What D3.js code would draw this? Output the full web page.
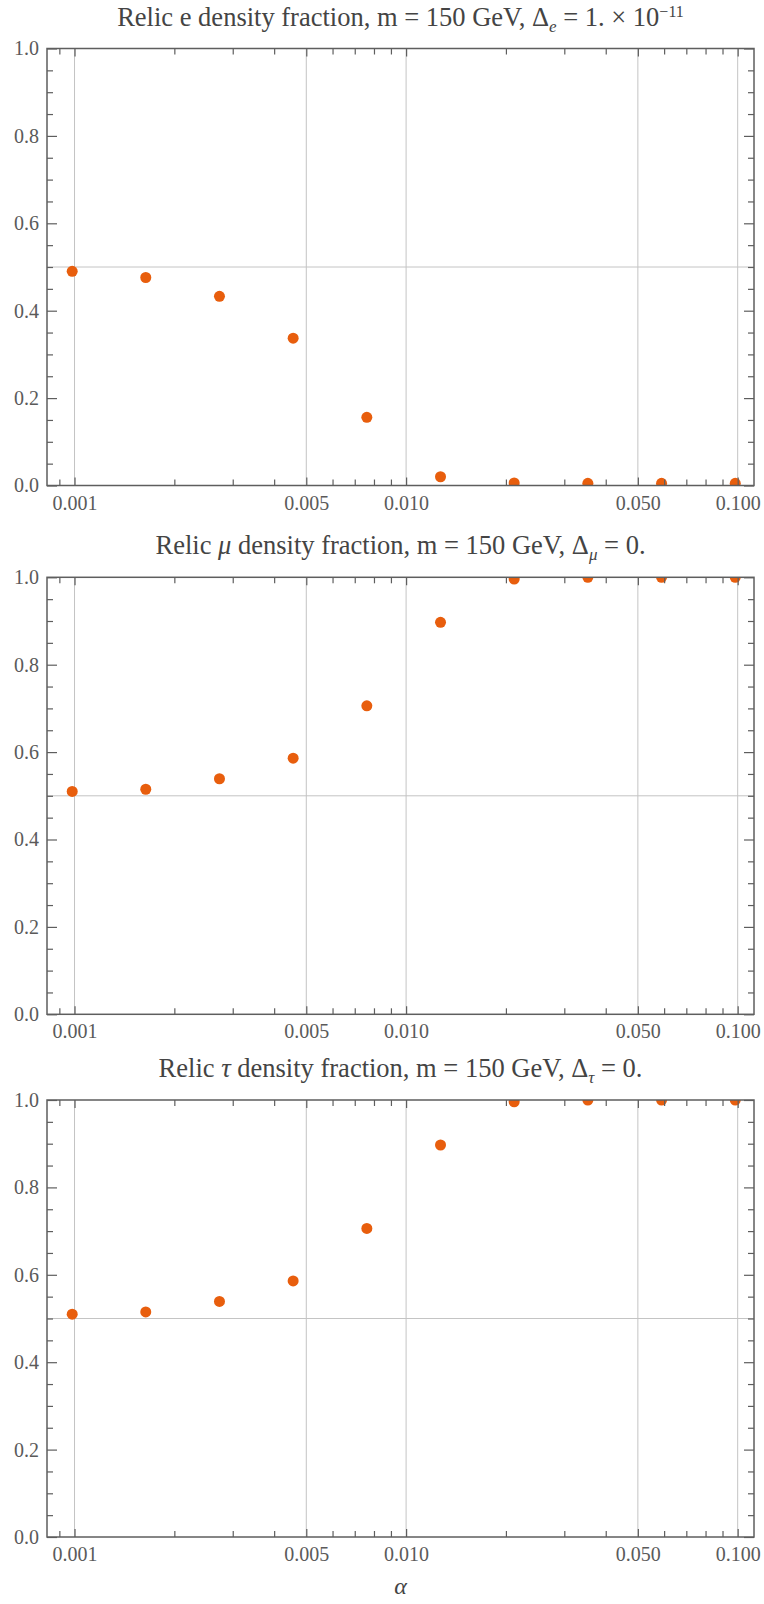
<!DOCTYPE html>
<html>
<head>
<meta charset="utf-8">
<script src="https://cdn.jsdelivr.net/npm/d3@7"></script>
<style>
  html, body { margin: 0; padding: 0; background: #fff; }
  svg { display: block; }
  text { font-family: "Liberation Serif", "Times New Roman", serif; }
</style>
</head>
<body>
<svg id="chart" width="764" height="1604"></svg>
<script>
// coupling values and relic density fractions per lepton flavour
const alphaValues = [0.000984, 0.00164, 0.002736, 0.004564, 0.007613, 0.0127, 0.02118, 0.03533, 0.05894, 0.09833];
const electronFraction = [0.490, 0.476, 0.433, 0.337, 0.156, 0.020, 0.006, 0.005, 0.005, 0.005];
const muonFraction = [0.510, 0.515, 0.539, 0.586, 0.706, 0.897, 0.996, 1.0, 1.0, 1.0];
const tauFraction = [0.510, 0.515, 0.539, 0.586, 0.706, 0.897, 0.996, 1.0, 1.0, 1.0];

const xMajorTicks = [0.001, 0.005, 0.01, 0.05, 0.1];
const xMajorLabels = ["0.001", "0.005", "0.010", "0.050", "0.100"];
const xMinorTicks = [0.0009, 0.002, 0.003, 0.004, 0.006, 0.007, 0.008, 0.009, 0.02, 0.03, 0.04, 0.06, 0.07, 0.08, 0.09];
const yMajorTicks = [0, 0.2, 0.4, 0.6, 0.8, 1.0];
const yMinorTicks = [0.05, 0.1, 0.15, 0.25, 0.3, 0.35, 0.45, 0.5, 0.55, 0.65, 0.7, 0.75, 0.85, 0.9, 0.95];
const xDomain = [0.000826, 0.1120];

const panels = [
  { id: "e", values: electronFraction, top: 48.5,
    title: [["Relic e density fraction, m = 150 GeV, Δ", ""], ["e", "sub"], [" = 1. × 10", ""], ["−11", "sup"]] },
  { id: "mu", values: muonFraction, top: 577.3,
    title: [["Relic ", ""], ["μ", "it"], [" density fraction, m = 150 GeV, Δ", ""], ["μ", "sub"], [" = 0.", ""]] },
  { id: "tau", values: tauFraction, top: 1100,
    title: [["Relic ", ""], ["τ", "it"], [" density fraction, m = 150 GeV, Δ", ""], ["τ", "sub"], [" = 0.", ""]] }
];

const left = 47, right = 754, plotH = 437;
const pointColor = "#e85e0d";
const frameColor = "#5e5e5e";
const gridColor = "#c4c4c4";
const labelColor = "#5a5a5a";

const svg = d3.select("#chart");
const x = d3.scaleLog().domain(xDomain).range([left, right]);

panels.forEach(p => {
  const y = d3.scaleLinear().domain([0, 1]).range([p.top + plotH, p.top]);
  const g = svg.append("g").attr("class", "panel-" + p.id);
  const bottom = p.top + plotH;

  // grid lines
  g.append("g").selectAll("line.vgrid").data(xMajorTicks).join("line")
    .attr("x1", d => x(d)).attr("x2", d => x(d))
    .attr("y1", p.top).attr("y2", bottom)
    .attr("stroke", gridColor).attr("stroke-width", 1);
  g.append("line")
    .attr("x1", left).attr("x2", right)
    .attr("y1", y(0.5)).attr("y2", y(0.5))
    .attr("stroke", gridColor).attr("stroke-width", 1);

  // points, clipped to the plot region
  const clipId = "clip-" + p.id;
  svg.append("clipPath").attr("id", clipId).append("rect")
    .attr("x", left).attr("y", p.top).attr("width", right - left).attr("height", plotH);
  g.append("g").attr("clip-path", `url(#${clipId})`)
    .selectAll("circle").data(alphaValues.map((a, i) => [a, p.values[i]])).join("circle")
    .attr("cx", d => x(d[0])).attr("cy", d => y(d[1])).attr("r", 5.5)
    .attr("fill", pointColor);

  // frame ticks (inward) on all four sides
  const styleAxis = sel => {
    sel.select(".domain").remove();
    sel.selectAll(".tick line").attr("stroke", frameColor).attr("stroke-width", 1.2);
    sel.selectAll(".tick text").attr("fill", labelColor).style("font-size", "20px");
  };
  g.append("g").attr("transform", `translate(0,${bottom})`)
    .call(d3.axisBottom(x).tickValues(xMajorTicks).tickSize(-8).tickPadding(10)
      .tickFormat((d, i) => xMajorLabels[i]))
    .call(styleAxis);
  g.append("g").attr("transform", `translate(0,${bottom})`)
    .call(d3.axisBottom(x).tickValues(xMinorTicks).tickSize(-6).tickFormat(""))
    .call(styleAxis);
  g.append("g").attr("transform", `translate(0,${p.top})`)
    .call(d3.axisTop(x).tickValues(xMajorTicks).tickSize(-8).tickFormat(""))
    .call(styleAxis);
  g.append("g").attr("transform", `translate(0,${p.top})`)
    .call(d3.axisTop(x).tickValues(xMinorTicks).tickSize(-6).tickFormat(""))
    .call(styleAxis);
  g.append("g").attr("transform", `translate(${left},0)`)
    .call(d3.axisLeft(y).tickValues(yMajorTicks).tickSize(-10).tickPadding(8).tickFormat(d3.format(".1f")))
    .call(styleAxis);
  g.append("g").attr("transform", `translate(${left},0)`)
    .call(d3.axisLeft(y).tickValues(yMinorTicks).tickSize(-6).tickFormat(""))
    .call(styleAxis);
  g.append("g").attr("transform", `translate(${right},0)`)
    .call(d3.axisRight(y).tickValues(yMajorTicks).tickSize(-10).tickFormat(""))
    .call(styleAxis);
  g.append("g").attr("transform", `translate(${right},0)`)
    .call(d3.axisRight(y).tickValues(yMinorTicks).tickSize(-6).tickFormat(""))
    .call(styleAxis);

  // frame
  g.append("rect")
    .attr("x", left).attr("y", p.top).attr("width", right - left).attr("height", plotH)
    .attr("fill", "none").attr("stroke", frameColor).attr("stroke-width", 1.5);

  // title
  const t = g.append("text")
    .attr("x", (left + right) / 2).attr("y", p.top - 23)
    .attr("text-anchor", "middle").attr("fill", "#444").style("font-size", "26.5px");
  let lastDy = 0;
  p.title.forEach(([s, kind]) => {
    const ts = t.append("tspan").text(s);
    if (kind === "it") ts.style("font-style", "italic");
    if (kind === "sub") { ts.style("font-style", "italic").style("font-size", "17px").attr("dy", 6); lastDy = 6; }
    else if (kind === "sup") { ts.style("font-size", "16px").attr("dy", -9); lastDy = -9; }
    else if (lastDy) { ts.attr("dy", -lastDy); lastDy = 0; }
  });
});

// x-axis label
svg.append("text")
  .attr("x", (left + right) / 2).attr("y", 1594)
  .attr("text-anchor", "middle").attr("fill", "#444")
  .style("font-size", "24px").style("font-style", "italic")
  .text("α");
</script>
</body>
</html>
